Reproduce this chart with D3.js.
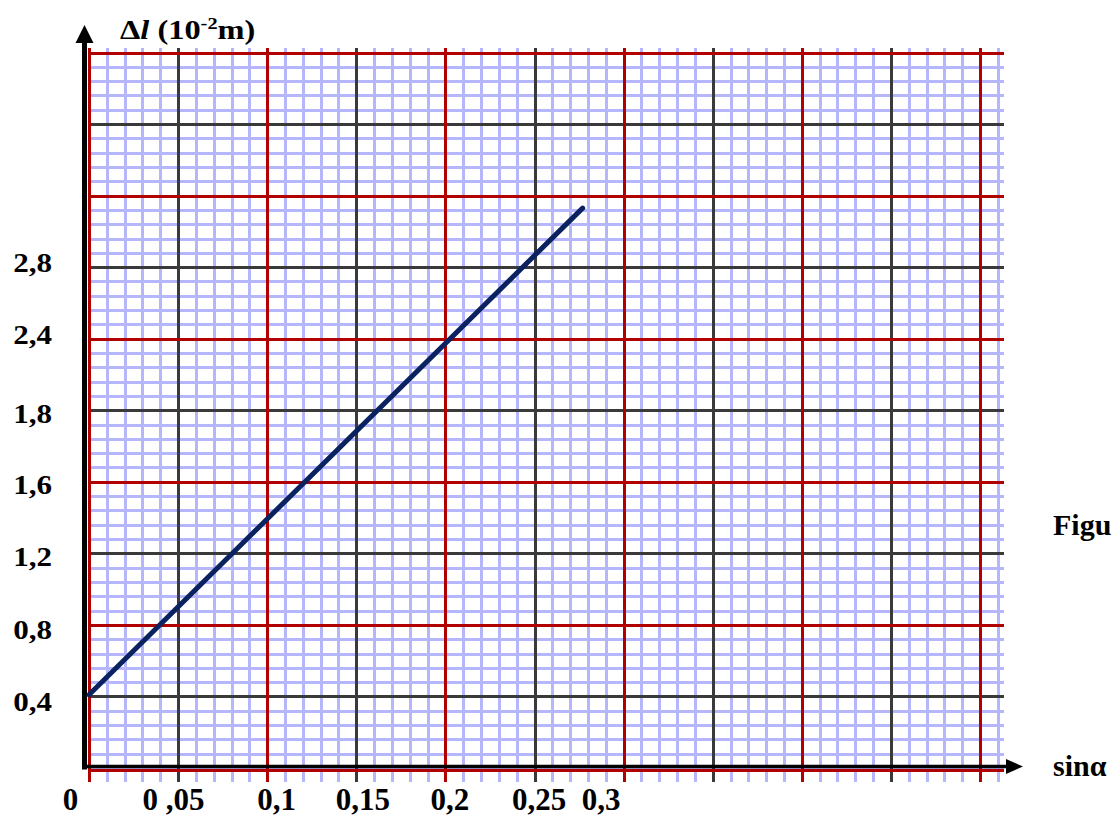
<!DOCTYPE html>
<html>
<head>
<meta charset="utf-8">
<script src="https://cdn.jsdelivr.net/npm/d3@7/dist/d3.min.js"></script>
<style>
  html, body { margin: 0; padding: 0; background: #fff; }
  svg { display: block; }
  text { font-family: "Liberation Serif", "Times New Roman", serif; font-weight: bold; }
</style>
</head>
<body>
<svg id="chart" width="1116" height="819"></svg>
<script>
// ---- data ----
const xTickValues = [0, 0.05, 0.1, 0.15, 0.2, 0.25, 0.3];
const xTickLabels = ["0", "0 ,05", "0,1", "0,15", "0,2", "0,25", "0,3"];
const yTickValues = [0.4, 0.8, 1.2, 1.6, 2.0, 2.4, 2.8];
const yTickLabels = ["0,4", "0,8", "1,2", "1,6", "1,8", "2,4", "2,8"];
const lineX = [0, 0.277];
const lineY = [0.41, 3.13];
const xAxisTitle = "sinα";
const sideNote = "Figu";

// ---- layout ----
const svg = d3.select("#chart");
const x = d3.scaleLinear().domain([0, 0.5]).range([89, 980]);
const y = d3.scaleLinear().domain([0, 4]).range([768, 52.5]);
const xNudge = [-19, -5, 9, 6, 4, 4, -23];
const yNudge = [5, 4, 3, 3, 3, -4, -5];
const px = v => Math.round(v) + 0.5;

const gridLeft = 88, gridRight = 1004, vTop = 48, vBottom = 782;
const blue = "#b6b6fc", dark = "#3a3a3a", red = "#b00000";

const g = svg.append("g");

// fine lines
const minorX = d3.range(0, 52).map(i => +(i * 0.01).toFixed(2));
const minorY = d3.range(0, 51).map(i => +(i * 0.08).toFixed(2));
g.selectAll(".mh").data(minorY).join("line")
  .attr("x1", gridLeft).attr("x2", gridRight)
  .attr("y1", d => px(y(d))).attr("y2", d => px(y(d)))
  .attr("stroke", blue).attr("stroke-width", 3);
g.selectAll(".mv").data(minorX).join("line")
  .attr("x1", d => px(x(d))).attr("x2", d => px(x(d)))
  .attr("y1", vTop).attr("y2", vBottom)
  .attr("stroke", blue).attr("stroke-width", 3);

// dark major lines
const darkX = [0.05, 0.15, 0.25, 0.35, 0.45];
const darkY = [0.4, 1.2, 2.0, 2.8, 3.6];
g.selectAll(".dh").data(darkY).join("line")
  .attr("x1", gridLeft).attr("x2", gridRight)
  .attr("y1", d => px(y(d))).attr("y2", d => px(y(d)))
  .attr("stroke", dark).attr("stroke-width", 3);
g.selectAll(".dv").data(darkX).join("line")
  .attr("x1", d => px(x(d))).attr("x2", d => px(x(d)))
  .attr("y1", vTop).attr("y2", vBottom)
  .attr("stroke", dark).attr("stroke-width", 3);

// red major lines
const redX = [0, 0.1, 0.2, 0.3, 0.4, 0.5];
const redY = [0, 0.8, 1.6, 2.4, 3.2, 4.0];
g.selectAll(".rh").data(redY).join("line")
  .attr("x1", gridLeft).attr("x2", gridRight)
  .attr("y1", d => px(y(d) + (d === 0 ? 1.5 : 0))).attr("y2", d => px(y(d) + (d === 0 ? 1.5 : 0)))
  .attr("stroke", red).attr("stroke-width", 3);
g.selectAll(".rv").data(redX).join("line")
  .attr("x1", d => px(x(d))).attr("x2", d => px(x(d)))
  .attr("y1", vTop).attr("y2", vBottom)
  .attr("stroke", red).attr("stroke-width", 3);

// axes lines
svg.append("line").attr("x1", 84.5).attr("x2", 84.5).attr("y1", 40).attr("y2", 769.5)
  .attr("stroke", "#000").attr("stroke-width", 5);
svg.append("line").attr("x1", 82).attr("x2", 1010).attr("y1", 766.5).attr("y2", 766.5)
  .attr("stroke", "#000").attr("stroke-width", 3.6);
svg.append("path").attr("d", "M84.5,25 L75.5,43 L93.5,43 Z").attr("fill", "#000");
svg.append("path").attr("d", "M1023,766.5 L1006,759 L1006,774 Z").attr("fill", "#000");

// data line
const line = d3.line().x(d => x(d[0])).y(d => y(d[1]));
svg.append("path").datum(lineX.map((v, i) => [v, lineY[i]]))
  .attr("d", line).attr("fill", "none")
  .attr("stroke", "#0b2260").attr("stroke-width", 5).attr("stroke-linecap", "round");

// y axis labels
const yAxis = d3.axisLeft(y).tickValues(yTickValues)
  .tickFormat((d, i) => yTickLabels[i]).tickSize(0).tickPadding(0);
const ya = svg.append("g").attr("transform", "translate(52,0)").call(yAxis);
ya.select(".domain").remove();
ya.selectAll("text").attr("font-size", 27).attr("fill", "#000")
  .attr("font-family", "Liberation Serif").attr("font-weight", "bold")
  .attr("dy", "0.34em").attr("x", 0).attr("y", (d, i) => yNudge[i])
  .attr("transform", "scale(1.15,1)");

// x axis labels
const xAxis = d3.axisBottom(x).tickValues(xTickValues)
  .tickFormat((d, i) => xTickLabels[i]).tickSize(0).tickPadding(0);
const xa = svg.append("g").attr("transform", "translate(0,810)").call(xAxis);
xa.select(".domain").remove();
xa.selectAll("text").attr("font-size", 31).attr("fill", "#000")
  .attr("font-family", "Liberation Serif").attr("font-weight", "bold")
  .attr("dy", "0").attr("y", 0)
  .attr("x", (d, i) => xNudge[i])
  .attr("xml:space", "preserve").style("white-space", "pre");

// titles
const t = svg.append("text").attr("transform", "translate(120,39) scale(1.2,1)")
  .attr("font-size", 27).attr("fill", "#000");
t.append("tspan").text("Δ");
t.append("tspan").attr("font-style", "italic").text("l");
t.append("tspan").text(" (10");
t.append("tspan").attr("font-size", 17).attr("dy", -10).text("-2");
t.append("tspan").attr("dy", 10).text("m)");

svg.append("text").attr("x", 1053).attr("y", 776).attr("font-size", 30).attr("fill", "#000").text(xAxisTitle);
svg.append("text").attr("x", 1053).attr("y", 535).attr("font-size", 30).attr("fill", "#000").text(sideNote);
</script>
</body>
</html>
